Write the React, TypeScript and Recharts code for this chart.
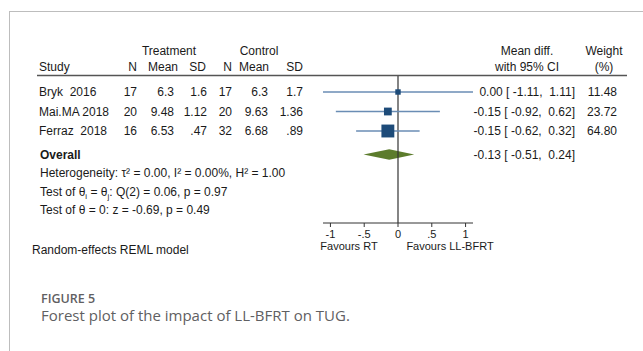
import React from 'react';
import {
  ComposedChart,
  Scatter,
  XAxis,
  YAxis,
  ErrorBar,
  ReferenceLine,
  ReferenceArea,
} from 'recharts';

// ---------------- data ----------------
const studies = ['Bryk  2016', 'Mai.MA 2018', 'Ferraz  2018'];
const treatN = [17, 20, 16];
const treatMean = [6.3, 9.48, 6.53];
const treatSD = [1.6, 1.12, 0.47];
const ctrlN = [17, 20, 32];
const ctrlMean = [6.3, 9.63, 6.68];
const ctrlSD = [1.7, 1.36, 0.89];
const meanDiff = [0.0, -0.15, -0.15];
const ciLow = [-1.11, -0.92, -0.62];
const ciHigh = [1.11, 0.62, 0.32];
const weights = [11.48, 23.72, 64.8];
const overallDiff = -0.13;
const overallLow = -0.51;
const overallHigh = 0.24;
const xTicks = [-1, -0.5, 0, 0.5, 1];
const xTickLabels = ['-1', '-.5', '0', '.5', '1'];
const heterogeneityText = 'Heterogeneity: \u03c4\u00b2 = 0.00, I\u00b2 = 0.00%, H\u00b2 = 1.00';
const qTestText = ': Q(2) = 0.06, p = 0.97';
const zTestText = 'Test of \u03b8 = 0: z = -0.69, p = 0.49';
const modelText = 'Random-effects REML model';
const favoursLeft = 'Favours RT';
const favoursRight = 'Favours LL-BFRT';
const figureLabel = 'FIGURE 5';
const captionText = 'Forest plot of the impact of LL-BFRT on TUG.';

// ---------------- layout ----------------
const W = 643;
const H = 351;
const FONT = '"Liberation Sans", Arial, Helvetica, sans-serif';
const TEXT = '#1a1a1a';
const PLOT_LEFT = 323;
const PLOT_RIGHT = 473;
const PLOT_TOP = 75;
const PLOT_BOTTOM = 223;
const LEFT_AXIS_W = 300;
const RIGHT_AXIS_W = 160;
const X_AXIS_H = 30;
const Y_DOMAIN: [number, number] = [0.128, 7.718];
const OVERALL_ROW = 4.2;
const DIAMOND_HALF = 0.27;
const SQUARE_SCALE = 1.6;
const COLS = { n1: 137, m1: 174, s1: 207, n2: 232, m2: 268, s2: 303 };
const CI_RIGHT = 575;
const WEIGHT_RIGHT = 617;

const fmtG = (v: number) => String(v).replace(/^0\./, '.');
const fmt2 = (v: number) => (Object.is(v, -0) ? 0 : v).toFixed(2);
const ciString = (e: number, lo: number, hi: number) =>
  `${fmt2(e)} [ ${lo < 0 ? '' : ' '}${fmt2(lo)}, ${hi < 0 ? '' : ' '}${fmt2(hi)}]`;

const studyRows = studies.map((s, i) => i + 1);
const scatterData = studies.map((s, i) => ({
  x: meanDiff[i],
  y: studyRows[i],
  w: weights[i],
  err: [meanDiff[i] - ciLow[i], ciHigh[i] - meanDiff[i]],
}));
const yTicks = [...studyRows, OVERALL_ROW];

const txt = { fontFamily: FONT, fontSize: 12, fill: TEXT, whiteSpace: 'pre' } as any;

const LeftTick = (props: any) => {
  const { y, payload } = props;
  const v = payload.value;
  if (Math.abs(v - OVERALL_ROW) < 1e-6) {
    return (
      <text x={40} y={y} dy="0.35em" style={txt} fontWeight="bold">
        Overall
      </text>
    );
  }
  const i = studyRows.indexOf(v);
  if (i < 0) return null;
  const cells: [number, string][] = [
    [COLS.n1, String(treatN[i])],
    [COLS.m1, fmtG(treatMean[i])],
    [COLS.s1, fmtG(treatSD[i])],
    [COLS.n2, String(ctrlN[i])],
    [COLS.m2, fmtG(ctrlMean[i])],
    [COLS.s2, fmtG(ctrlSD[i])],
  ];
  return (
    <g>
      <text x={39} y={y} dy="0.35em" style={txt}>
        {studies[i]}
      </text>
      {cells.map(([cx, s], k) => (
        <text key={k} x={cx} y={y} dy="0.35em" style={txt} textAnchor="end">
          {s}
        </text>
      ))}
    </g>
  );
};

const RightTick = (props: any) => {
  const { y, payload } = props;
  const v = payload.value;
  if (Math.abs(v - OVERALL_ROW) < 1e-6) {
    return (
      <text x={CI_RIGHT} y={y} dy="0.35em" style={txt} textAnchor="end">
        {ciString(overallDiff, overallLow, overallHigh)}
      </text>
    );
  }
  const i = studyRows.indexOf(v);
  if (i < 0) return null;
  return (
    <g>
      <text x={CI_RIGHT} y={y} dy="0.35em" style={txt} textAnchor="end">
        {ciString(meanDiff[i], ciLow[i], ciHigh[i])}
      </text>
      <text x={WEIGHT_RIGHT} y={y} dy="0.35em" style={txt} textAnchor="end">
        {fmt2(weights[i])}
      </text>
    </g>
  );
};

const SquareShape = (p: any) => {
  const s = SQUARE_SCALE * Math.sqrt(p.payload.w);
  return <rect x={p.cx - s / 2} y={p.cy - s / 2} width={s} height={s} fill="#1d4b79" />;
};

const DiamondShape = (p: any) => {
  const { x, y, width, height } = p;
  const frac = (overallDiff - overallLow) / (overallHigh - overallLow);
  const ax = x + width * frac;
  const cy = y + height / 2;
  const pts = `${x},${cy} ${ax},${y} ${x + width},${cy} ${ax},${y + height}`;
  return <polygon points={pts} fill="#5c7c2c" />;
};

export default function App() {
  return (
    <div
      style={{
        position: 'absolute',
        left: 0,
        top: 0,
        width: W,
        height: H,
        background: '#fff',
        overflow: 'hidden',
      }}
    >
      <div
        style={{
          position: 'absolute',
          left: 9,
          top: 11,
          width: 700,
          height: 400,
          borderLeft: '1px solid #bdbdbd',
          borderTop: '1px solid #bdbdbd',
        }}
      />
      <div style={{ position: 'absolute', left: 0, top: 0 }}>
        <ComposedChart
          width={W}
          height={H}
          margin={{
            top: PLOT_TOP,
            bottom: H - PLOT_BOTTOM - X_AXIS_H,
            left: PLOT_LEFT - LEFT_AXIS_W,
            right: W - PLOT_RIGHT - RIGHT_AXIS_W,
          }}
        >
          <XAxis
            type="number"
            dataKey="x"
            domain={[ciLow[0], ciHigh[0]]}
            allowDataOverflow
            ticks={xTicks}
            interval={0}
            tickFormatter={(v: number) => xTickLabels[xTicks.indexOf(v)]}
            height={X_AXIS_H}
            axisLine={{ stroke: '#333' }}
            tickLine={{ stroke: '#333' }}
            tickSize={4}
            tickMargin={3}
            tick={{ fontSize: 11, fill: TEXT, fontFamily: FONT }}
          />
          <YAxis
            yAxisId="left"
            orientation="left"
            type="number"
            dataKey="y"
            domain={Y_DOMAIN}
            allowDataOverflow
            reversed
            ticks={yTicks}
            interval={0}
            width={LEFT_AXIS_W}
            axisLine={false}
            tickLine={false}
            tick={<LeftTick />}
          />
          <YAxis
            yAxisId="right"
            orientation="right"
            type="number"
            dataKey="y"
            domain={Y_DOMAIN}
            allowDataOverflow
            reversed
            ticks={yTicks}
            interval={0}
            width={RIGHT_AXIS_W}
            axisLine={false}
            tickLine={false}
            tick={<RightTick />}
          />
          <ReferenceArea
            yAxisId="left"
            x1={overallLow}
            x2={overallHigh}
            y1={OVERALL_ROW - DIAMOND_HALF}
            y2={OVERALL_ROW + DIAMOND_HALF}
            shape={(p: any) => <DiamondShape {...p} />}
          />
          <ReferenceLine yAxisId="left" x={0} stroke="#333" strokeWidth={1.2} />
          <Scatter
            yAxisId="left"
            data={scatterData}
            isAnimationActive={false}
            shape={(p: any) => <SquareShape {...p} />}
          >
            <ErrorBar
              dataKey="err"
              direction="x"
              width={0}
              stroke="#6a8db4"
              strokeWidth={1.3}
              isAnimationActive={false}
            />
          </Scatter>
        </ComposedChart>
      </div>
      <svg
        width={W}
        height={H}
        style={{ position: 'absolute', left: 0, top: 0, pointerEvents: 'none' }}
      >
        <g style={txt}>
          <text x={169} y={54.5} textAnchor="middle" style={txt}>Treatment</text>
          <text x={259} y={54.5} textAnchor="middle" style={txt}>Control</text>
          <text x={527} y={54.5} textAnchor="middle" style={txt}>Mean diff.</text>
          <text x={604} y={54.5} textAnchor="middle" style={txt}>Weight</text>
          <text x={39} y={71} style={txt}>Study</text>
          <text x={COLS.n1} y={71} textAnchor="end" style={txt}>N</text>
          <text x={178} y={71} textAnchor="end" style={txt}>Mean</text>
          <text x={206} y={71} textAnchor="end" style={txt}>SD</text>
          <text x={COLS.n2} y={71} textAnchor="end" style={txt}>N</text>
          <text x={269} y={71} textAnchor="end" style={txt}>Mean</text>
          <text x={COLS.s2} y={71} textAnchor="end" style={txt}>SD</text>
          <text x={527} y={71} textAnchor="middle" style={txt}>with 95% CI</text>
          <text x={604} y={71} textAnchor="middle" style={txt}>(%)</text>
        </g>
        <line x1={37} x2={627} y1={75.5} y2={75.5} stroke="#555" strokeWidth={1.5} />
        <text x={40} y={177} style={txt}>{heterogeneityText}</text>
        <text x={40} y={196} style={txt}>
          Test of θ<tspan fontSize={8} dy={3}>i</tspan>
          <tspan dy={-3}> = θ</tspan>
          <tspan fontSize={8} dy={3}>j</tspan>
          <tspan dy={-3}>{qTestText}</tspan>
        </text>
        <text x={40} y={214} style={txt}>{zTestText}</text>
        <text x={32} y={254} style={txt}>{modelText}</text>
        <text x={349} y={250} textAnchor="middle" style={{ ...txt, fontSize: 11 }}>
          {favoursLeft}
        </text>
        <text x={450} y={250} textAnchor="middle" style={{ ...txt, fontSize: 11 }}>
          {favoursRight}
        </text>
        <text
          x={41}
          y={302.5}
          style={{ fontFamily: '"Open Sans", sans-serif', fontSize: 12.5, fontWeight: 600, fill: '#5f6062' }}
        >
          {figureLabel}
        </text>
        <text
          x={41}
          y={321}
          style={{ fontFamily: '"Open Sans", sans-serif', fontSize: 15, fill: '#5f6062' }}
        >
          {captionText}
        </text>
      </svg>
    </div>
  );
}
